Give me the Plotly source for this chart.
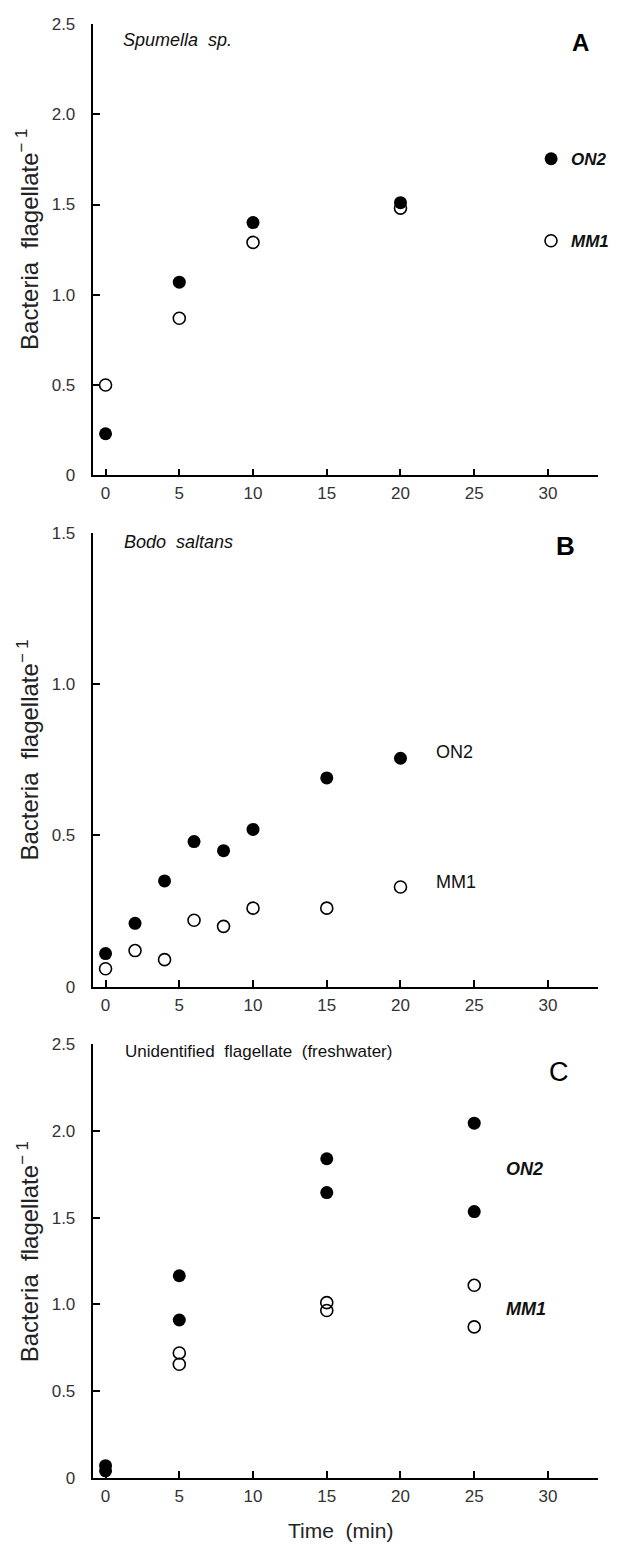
import plotly.graph_objects as go

# ---------------- data ----------------
time_A = [0, 5, 10, 20]
on2_A = [0.23, 1.07, 1.40, 1.51]
mm1_A = [0.50, 0.87, 1.29, 1.48]

time_B = [0, 2, 4, 6, 8, 10, 15, 20]
on2_B = [0.11, 0.21, 0.35, 0.48, 0.45, 0.52, 0.69, 0.755]
mm1_B = [0.06, 0.12, 0.09, 0.22, 0.20, 0.26, 0.26, 0.33]

time_C_on2 = [0, 0, 5, 5, 15, 15, 25, 25]
on2_C = [0.07, 0.04, 1.165, 0.91, 1.84, 1.645, 2.045, 1.535]
time_C_mm1 = [5, 5, 15, 15, 25, 25]
mm1_C = [0.72, 0.655, 1.01, 0.965, 1.11, 0.87]

x_ticks = [0, 5, 10, 15, 20, 25, 30]
y_ticks_AC = [0, 0.5, 1.0, 1.5, 2.0, 2.5]
y_text_AC = ["0", "0.5", "1.0", "1.5", "2.0", "2.5"]
y_ticks_B = [0, 0.5, 1.0, 1.5]
y_text_B = ["0", "0.5", "1.0", "1.5"]

panel_titles = ["Spumella\u00a0\u00a0sp.", "Bodo\u00a0\u00a0saltans",
                "Unidentified\u00a0\u00a0flagellate\u00a0\u00a0(freshwater)"]
panel_letters = ["A", "B", "C"]
series_names = ["ON2", "MM1"]

# ---------------- layout helpers ----------------
# page has an 8px body margin; figure sized to fit inside the 622x1559 window
OFF = 8
W, H = 622 - 2 * OFF, 1559 - 2 * OFF
FONT = "Liberation Sans, Arial, sans-serif"


def px(p):
    return (p - OFF) / W


def py(p):
    return 1 - (p - OFF) / H


x_dom = [px(94), px(607)]
y_doms = [[py(472), py(15)], [py(990), py(530)], [py(1487), py(1048)]]

fig = go.Figure()

filled = dict(symbol="circle", size=13, color="black", line=dict(width=0))
opened = dict(symbol="circle-open", size=12, color="black", line=dict(width=1.6))

# Panel A
fig.add_trace(go.Scatter(x=time_A, y=mm1_A, mode="markers", marker=opened, xaxis="x", yaxis="y",
                         name=series_names[1], legend="legend2", cliponaxis=False))
fig.add_trace(go.Scatter(x=time_A, y=on2_A, mode="markers", marker=filled, xaxis="x", yaxis="y",
                         name=series_names[0], legend="legend", cliponaxis=False))
# Panel B
fig.add_trace(go.Scatter(x=time_B, y=mm1_B, mode="markers", marker=opened, xaxis="x2", yaxis="y2",
                         showlegend=False, cliponaxis=False))
fig.add_trace(go.Scatter(x=time_B, y=on2_B, mode="markers", marker=filled, xaxis="x2", yaxis="y2",
                         showlegend=False, cliponaxis=False))
# Panel C
fig.add_trace(go.Scatter(x=time_C_mm1, y=mm1_C, mode="markers", marker=opened, xaxis="x3", yaxis="y3",
                         showlegend=False, cliponaxis=False))
fig.add_trace(go.Scatter(x=time_C_on2, y=on2_C, mode="markers", marker=filled, xaxis="x3", yaxis="y3",
                         showlegend=False, cliponaxis=False))

tickfont = dict(family=FONT, size=17, color="#333")


def xaxis(anchor):
    return dict(domain=x_dom, anchor=anchor, range=[-0.87, 33.4], tickvals=x_ticks,
                ticks="inside", ticklen=7, tickwidth=1.5, tickcolor="black",
                showline=True, linewidth=1.5, linecolor="black", showgrid=False,
                zeroline=False, tickfont=tickfont, ticklabelstandoff=2)


def yaxis(anchor, dom, top, vals, texts):
    return dict(domain=dom, anchor=anchor, range=[0, top * 1.0002], tickvals=vals, ticktext=texts,
                ticks="inside", ticklen=7, tickwidth=1.5, tickcolor="black",
                showline=True, linewidth=2, linecolor="black", showgrid=False,
                zeroline=False, tickfont=tickfont, ticklabelstandoff=12)


legfont = dict(family=FONT, size=17, style="italic", weight="bold", color="#111")
fig.update_layout(
    width=W, height=H, margin=dict(l=0, r=0, t=0, b=0),
    paper_bgcolor="white", plot_bgcolor="white",
    xaxis=xaxis("y"), xaxis2=xaxis("y2"), xaxis3=xaxis("y3"),
    yaxis=yaxis("x", y_doms[0], 2.5, y_ticks_AC, y_text_AC),
    yaxis2=yaxis("x2", y_doms[1], 1.5, y_ticks_B, y_text_B),
    yaxis3=yaxis("x3", y_doms[2], 2.5, y_ticks_AC, y_text_AC),
    legend=dict(x=px(557 - 18), xanchor="left", y=py(152), yanchor="middle",
                font=legfont, bgcolor="rgba(0,0,0,0)", itemwidth=30),
    legend2=dict(x=px(557 - 18), xanchor="left", y=py(235), yanchor="middle",
                 font=legfont, bgcolor="rgba(0,0,0,0)", itemwidth=30),
    showlegend=True,
)

ann = []
italic = dict(family=FONT, size=18, style="italic", color="#111")
plain = dict(family=FONT, size=18, color="#111")
bolditalic = dict(family=FONT, size=18, style="italic", weight="bold", color="#111")

# panel titles
ann.append(dict(text=panel_titles[0], x=1.06, y=2.41, xref="x", yref="y", xanchor="left",
                yanchor="middle", showarrow=False, font=italic))
ann.append(dict(text=panel_titles[1], x=1.1, y=1.468, xref="x2", yref="y2", xanchor="left",
                yanchor="middle", showarrow=False, font=italic))
ann.append(dict(text=panel_titles[2], x=1.2, y=2.456, xref="x3", yref="y3", xanchor="left",
                yanchor="middle", showarrow=False, font=dict(family=FONT, size=17, color="#111")))
# letters
ann.append(dict(text=panel_letters[0], x=32.2, y=2.40, xref="x", yref="y", showarrow=False,
                font=dict(family=FONT, size=24, weight="bold", color="black")))
ann.append(dict(text=panel_letters[1], x=31.2, y=1.457, xref="x2", yref="y2", showarrow=False,
                font=dict(family=FONT, size=26, weight="bold", color="black")))
ann.append(dict(text=panel_letters[2], x=30.75, y=2.34, xref="x3", yref="y3", showarrow=False,
                font=dict(family=FONT, size=27, color="black")))
# direct labels panel B
ann.append(dict(text=series_names[0], x=22.3, y=0.777, xref="x2", yref="y2", xanchor="left",
                showarrow=False, font=plain))
ann.append(dict(text=series_names[1], x=22.3, y=0.348, xref="x2", yref="y2", xanchor="left",
                showarrow=False, font=plain))
# direct labels panel C
ann.append(dict(text=series_names[0], x=27.0, y=1.782, xref="x3", yref="y3", xanchor="left",
                showarrow=False, font=bolditalic))
ann.append(dict(text=series_names[1], x=27.0, y=0.973, xref="x3", yref="y3", xanchor="left",
                showarrow=False, font=bolditalic))
# y-axis titles
ytitle = "Bacteria\u00a0\u00a0flagellate<sup>\u2212\u00a01</sup>"
for yc in [py(233), py(750), py(1258)]:
    ann.append(dict(text=ytitle, x=px(28), y=yc, xref="paper", yref="paper", textangle=-90,
                    xanchor="center", yanchor="middle", showarrow=False,
                    font=dict(family=FONT, size=24, color="#222")))
# x-axis title
ann.append(dict(text="Time\u00a0\u00a0(min)", x=px(346), y=py(1540), xref="paper", yref="paper",
                xanchor="center", yanchor="middle", showarrow=False,
                font=dict(family=FONT, size=21, color="#222")))

fig.update_layout(annotations=ann)
fig.write_html("out.html")
